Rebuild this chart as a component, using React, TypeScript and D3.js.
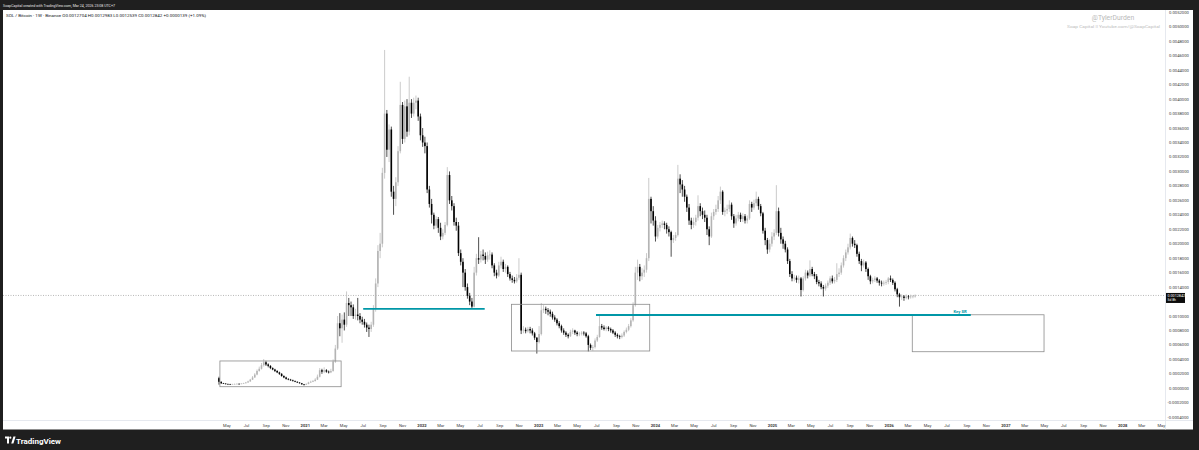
import React from "react";
import * as d3 from "d3";

// Prices below are in units of 0.00001 BTC (SOL/BTC, weekly, Binance)
const UNIT = 1e-5;
const FIRST_WEEK = Date.UTC(2020, 3, 6);
const WEEK = 7 * 86400000;
const FIRST_OPEN = 14;

const close2020 = [9, 7, 6.5, 6, 5.8, 5.5, 5.8, 6, 6.2, 6, 6.5, 7, 8, 9.5, 12, 15, 19, 24, 27, 32, 36, 33, 31, 28, 26, 24, 22, 20, 17, 15, 13, 12, 11, 10, 9, 8, 7, 5.5, 5];
const high2020 = [16, 9.5, 7.5, 7, 6.5, 6.2, 6.3, 6.6, 6.8, 6.7, 7, 7.6, 8.8, 10.5, 13, 17, 21, 26, 30, 35, 40.5, 38, 34.5, 32, 29, 27, 25, 23, 21, 18, 16, 14, 13, 12, 10.8, 9.5, 8.5, 7.4, 6];
const low2020 = [5, 6, 6, 5.5, 5.3, 5, 5.2, 5.5, 5.7, 5.6, 5.8, 6.2, 6.8, 7.8, 9, 11.5, 14.5, 18, 23, 26, 30, 31, 29, 26.5, 25, 22.5, 21, 18.5, 16, 14, 12, 11.2, 10.3, 9.4, 8.5, 7.4, 6.5, 5, 3.8];

const close2021 = [6, 8, 9, 10, 12, 16, 25, 23, 25, 23, 22, 24, 37, 55, 90, 83, 95, 88, 118, 115, 112, 100, 102, 100, 95, 92, 88, 84, 82, 88, 110, 145, 190, 200, 298, 380, 330, 358, 272, 262, 285, 328, 392, 345, 390, 355, 395, 380, 395, 398, 376, 350];
const high2021 = [7, 9, 10.5, 11.5, 14, 19, 28, 27, 29, 26.5, 24.5, 27, 40, 60, 100, 104, 102, 105, 134, 125, 120, 116, 110, 125, 104, 99, 96, 91, 88, 92, 115, 152, 198, 215, 305, 468, 385, 365, 362, 280, 292, 335, 424, 396, 398, 400, 431, 400, 402, 405, 402, 380];
const low2021 = [4.6, 5.5, 7.5, 8.5, 9.5, 11.5, 15, 20, 21, 21.5, 20.5, 21, 23, 35, 53, 72, 63, 80, 85, 100, 100, 96, 95, 94, 90, 88, 84, 78, 71, 78, 85, 106, 140, 180, 195, 290, 320, 313, 265, 240, 252, 280, 325, 338, 340, 348, 350, 374, 376, 386, 370, 343];

const close2022 = [340, 335, 275, 255, 240, 225, 234, 222, 210, 215, 226, 295, 260, 252, 230, 225, 187, 175, 160, 140, 128, 120, 113, 160, 180, 178, 185, 183, 178, 184, 185, 170, 160, 156, 170, 175, 165, 168, 158, 152, 150, 148, 153, 157, 80, 81, 79, 82, 80, 76, 70, 64];
const high2022 = [360, 348, 340, 280, 262, 243, 238, 237, 229, 220, 230, 306, 300, 266, 256, 236, 230, 192, 180, 165, 145, 132, 125, 168, 186, 209, 190, 192, 188, 189, 191, 188, 173, 164, 175, 182, 178, 172, 170, 161, 156, 154, 158, 180, 160, 86, 84, 85, 85, 83, 78, 71];
const low2022 = [334, 325, 270, 250, 228, 220, 221, 215, 205, 206, 212, 224, 255, 246, 225, 218, 183, 170, 140, 135, 124, 115, 110, 112, 156, 172, 174, 177, 172, 175, 178, 166, 155, 152, 154, 166, 161, 160, 154, 149, 146, 145, 146, 150, 75, 76, 76, 77, 76, 73, 67, 48];

const close2023 = [75, 108, 110, 108, 106, 103, 98, 95, 90, 86, 80, 77, 74, 72, 78, 80, 77, 75, 75.5, 77, 76, 72, 60, 56, 57, 66, 71, 86, 84, 82, 84, 82, 80, 77, 74, 72, 71, 73, 78, 81, 86, 94, 115, 160, 168, 155, 160, 164, 180, 262, 245, 232];
const high2023 = [86, 118, 115, 113, 111, 109, 106, 101, 97, 93, 88, 83, 79, 76, 81, 83, 81, 79, 78, 79, 79, 78, 74, 62, 60, 69, 74, 101, 89, 87, 86, 86, 84, 82, 79, 76, 74, 76, 80, 84, 89, 97, 119, 168, 178, 172, 166, 170, 187, 291, 265, 252];
const low2023 = [62, 73, 104, 103, 101, 99, 95, 92, 87, 83, 77, 74, 71, 69, 71, 75, 74, 72, 72, 73, 73, 70, 51, 53, 52, 55, 64, 70, 81, 80, 79, 79, 77, 75, 71, 69, 68, 69, 71, 76, 79, 84, 92, 113, 150, 148, 150, 154, 160, 176, 228, 225];

const close2024 = [210, 222, 226, 228, 226, 220, 216, 205, 208, 212, 290, 282, 275, 265, 250, 232, 226, 230, 236, 252, 245, 240, 236, 220, 210, 238, 244, 248, 260, 272, 244, 246, 248, 254, 238, 228, 235, 240, 234, 238, 232, 235, 255, 250, 256, 262, 252, 242, 218, 205, 192, 200];
const high2024 = [238, 226, 230, 232, 231, 229, 224, 218, 212, 216, 309, 296, 288, 280, 268, 255, 236, 236, 240, 267, 256, 250, 246, 240, 224, 243, 248, 254, 266, 279, 274, 250, 254, 260, 257, 241, 240, 244, 243, 242, 241, 239, 260, 258, 261, 272, 265, 255, 244, 222, 208, 206];
const low2024 = [203, 207, 217, 222, 220, 214, 210, 182, 201, 204, 210, 270, 265, 258, 244, 226, 220, 222, 225, 232, 238, 234, 230, 212, 198, 208, 233, 240, 244, 255, 240, 238, 241, 244, 233, 222, 225, 231, 230, 230, 228, 228, 233, 244, 247, 252, 247, 238, 214, 198, 186, 188];

const close2025 = [210, 215, 245, 215, 206, 200, 192, 176, 158, 152, 153, 150, 152, 136, 152, 160, 156, 165, 158, 155, 147, 145, 140, 138, 142, 146, 152, 148, 150, 158, 160, 170, 180, 188, 195, 208, 200, 198, 186, 176, 170, 174, 165, 155, 148, 150, 152, 149, 146, 145, 146, 147, 152];
const high2025 = [216, 220, 281, 250, 222, 210, 204, 195, 179, 162, 157, 156, 156, 154, 155, 164, 163, 177, 168, 161, 158, 150, 148, 143, 145, 149, 155, 156, 154, 173, 166, 174, 184, 192, 200, 214, 210, 205, 200, 189, 179, 178, 176, 167, 157, 153, 155, 154, 151, 149, 149, 150, 154];
const low2025 = [196, 205, 212, 210, 200, 193, 188, 172, 154, 148, 148, 146, 145, 127, 134, 149, 152, 154, 155, 151, 144, 141, 137, 127, 135, 139, 143, 145, 145, 147, 154, 157, 167, 176, 185, 192, 196, 194, 182, 172, 162, 167, 161, 150, 144, 145, 147, 146, 142, 141, 142, 143, 144];

const close2026 = [150, 146, 137, 130, 126, 127, 125, 127, 126, 127, 127.04, 128.42];
const high2026 = [156, 152, 148, 139, 132, 130, 129, 130, 129, 129.5, 129, 129.83];
const low2026 = [147, 143, 134, 126, 113, 122, 121, 123, 123, 124, 124.5, 125.39];

const closes = [...close2020, ...close2021, ...close2022, ...close2023, ...close2024, ...close2025, ...close2026];
const highs = [...high2020, ...high2021, ...high2022, ...high2023, ...high2024, ...high2025, ...high2026];
const lows = [...low2020, ...low2021, ...low2022, ...low2023, ...low2024, ...low2025, ...low2026];

const priceLabels = ["0.0052000", "0.0050000", "0.0048000", "0.0046000", "0.0044000", "0.0042000", "0.0040000", "0.0038000", "0.0036000", "0.0034000", "0.0032000", "0.0030000", "0.0028000", "0.0026000", "0.0024000", "0.0022000", "0.0020000", "0.0018000", "0.0016000", "0.0014000", "0.0010000", "0.0008000", "0.0006000", "0.0004000", "0.0002000", "0.0000000", "-0.0002000", "-0.0004000"];

// time labels every 2 months starting May 2020
const timeLabels = ["May", "Jul", "Sep", "Nov", "2021", "Mar", "May", "Jul", "Sep", "Nov", "2022", "Mar", "May", "Jul", "Sep", "Nov", "2023", "Mar", "May", "Jul", "Sep", "Nov", "2024", "Mar", "May", "Jul", "Sep", "Nov", "2025", "Mar", "May", "Jul", "Sep", "Nov", "2026", "Mar", "May", "Jul", "Sep", "Nov", "2027", "Mar", "May", "Jul", "Sep", "Nov", "2028", "Mar", "May"];

const boxes = [
  { t0: "2020-04-09", t1: "2021-04-23", top: 0.000378, bottom: 0.000022 },
  { t0: "2022-10-08", t1: "2023-12-14", top: 0.001162, bottom: 0.000516 },
  { t0: "2026-03-14", t1: "2027-04-30", top: 0.001017, bottom: 0.000506 },
];
const levels = [
  { t0: "2021-07-01", t1: "2022-07-16", v: 0.0011, label: "" },
  { t0: "2023-06-29", t1: "2026-09-13", v: 0.001014, label: "Key SR" },
];

const LAST_PRICE = 0.0012842;
const HEADER = "SoapCapital created with TradingView.com, Mar 24, 2026 23:08 UTC+7";
const SYMBOL = "SOL / Bitcoin · 1W · Binance  O0.0012704  H0.0012983  L0.0012539  C0.0012842  +0.0000139 (+1.09%)";

const W = 1199, H = 450;
const PLOT_R = 1165.5, PLOT_T = 10, AXIS_Y = 420.5, DARK_B = 429.5;
const FONT = "Roboto, 'Noto Sans', Arial, sans-serif";
const UP = "#b4b4b4", DOWN = "#000000", TEAL = "#0097a7";

const xScale = d3.scaleUtc()
  .domain([new Date(Date.UTC(2021, 0, 1)), new Date(Date.UTC(2028, 0, 1))])
  .range([305.3, 1122.7]);
const yScale = d3.scaleLinear().domain([0, 0.0048]).range([388.3, 41.3]);

export default function App() {
  const candles = closes.map((c, i) => ({
    t: new Date(FIRST_WEEK + i * WEEK),
    o: i === 0 ? FIRST_OPEN : closes[i - 1],
    c, h: highs[i], l: lows[i],
  }));
  const d = (s: string) => new Date(s + "T00:00:00Z");
  const tickDates = timeLabels.map((_, k) => new Date(Date.UTC(2020, 4 + 2 * k, 1)));

  return (
    <svg width={W} height={H} style={{ position: "absolute", left: 0, top: 0, display: "block" }} fontFamily={FONT}>
      <defs>
        <clipPath id="plot"><rect x={3} y={PLOT_T} width={PLOT_R - 3} height={AXIS_Y - PLOT_T} /></clipPath>
      </defs>
      <rect x={0} y={0} width={W} height={H} fill="#1f1f1f" />
      <rect x={3} y={PLOT_T} width={1190} height={DARK_B - PLOT_T} fill="#ffffff" />
      <text x={3} y={6.8} fontSize={4} fill="#e6e6e6" textLength={112} lengthAdjust="spacingAndGlyphs">{HEADER}</text>

      {/* watermark */}
      <text x={1113} y={20} fontSize={6.8} fill="#b9b9b9" textAnchor="middle">@TylerDurden</text>
      <text x={1160} y={27.5} fontSize={4.4} fill="#bdbdbd" textAnchor="end" textLength={93} lengthAdjust="spacingAndGlyphs">Soap Capital || Youtube.com/@SoapCapital</text>

      <g clipPath="url(#plot)">
        <line x1={3} x2={PLOT_R} y1={yScale(LAST_PRICE)} y2={yScale(LAST_PRICE)} stroke="#8a8a8a" strokeWidth={0.6} strokeDasharray="1,1.5" />
        {candles.map((k, i) => {
          const x = xScale(k.t);
          const col = k.c >= k.o ? UP : DOWN;
          const y0 = yScale(Math.max(k.o, k.c) * UNIT);
          const y1 = yScale(Math.min(k.o, k.c) * UNIT);
          return (
            <g key={i}>
              <line x1={x} x2={x} y1={yScale(k.h * UNIT)} y2={yScale(k.l * UNIT)} stroke={col} strokeWidth={0.7} />
              <rect x={x - 0.8} y={y0} width={1.6} height={Math.max(0.6, y1 - y0)} fill={col} />
            </g>
          );
        })}
        {boxes.map((b, i) => (
          <rect key={i} x={xScale(d(b.t0))} y={yScale(b.top)} width={xScale(d(b.t1)) - xScale(d(b.t0))}
            height={yScale(b.bottom) - yScale(b.top)} fill="none" stroke="#8c8c8c" strokeWidth={0.8} />
        ))}
        {levels.map((l, i) => (
          <g key={i}>
            <line x1={xScale(d(l.t0))} x2={xScale(d(l.t1))} y1={yScale(l.v)} y2={yScale(l.v)} stroke={TEAL} strokeWidth={1.8} />
            {l.label && (
              <text x={xScale(d(l.t1)) - 4} y={yScale(l.v) - 2.2} fontSize={4.2} fontWeight="bold" fill={TEAL} textAnchor="end">{l.label}</text>
            )}
          </g>
        ))}
      </g>

      <text x={6} y={16.6} fontSize={4.4} fill="#131722" textLength={200} lengthAdjust="spacingAndGlyphs">{SYMBOL}</text>

      {/* axes frame */}
      <line x1={PLOT_R} x2={PLOT_R} y1={PLOT_T} y2={DARK_B} stroke="#e0e3eb" strokeWidth={0.8} />
      <line x1={3} x2={1193} y1={AXIS_Y} y2={AXIS_Y} stroke="#e0e3eb" strokeWidth={0.8} />

      {priceLabels.map((s) => {
        const v = parseFloat(s);
        return (
          <text key={s} x={v < 0 ? 1167.5 : 1169} y={yScale(v) + 1.5} fontSize={4.2} fill="#3a3a3a">{s}</text>
        );
      })}

      {/* last price label */}
      <rect x={1166} y={yScale(LAST_PRICE) - 2.5} width={19} height={10} fill="#0c0c0c" />
      <text x={1167.5} y={yScale(LAST_PRICE) + 1.3} fontSize={3.7} fill="#ffffff">0.0012842</text>
      <text x={1167.5} y={yScale(LAST_PRICE) + 6} fontSize={3.4} fill="#ffffff">5d 8h</text>

      {timeLabels.map((s, k) => (
        <text key={k} x={xScale(tickDates[k])} y={426.5} fontSize={4.1} fill="#3a3a3a" textAnchor="middle"
          fontWeight={/^\d{4}$/.test(s) ? "bold" : "normal"}>{s}</text>
      ))}

      {/* TradingView logo */}
      <g transform="translate(5,436.5)" fill="#ffffff">
        <path d="M0,0 H4 V7 H2 V2 H0 Z" />
        <circle cx={5.3} cy={1.2} r={1.1} />
        <path d="M6.2,7 L8.4,0 H10.6 L8.4,7 Z" />
      </g>
      <text x={16} y={443.8} fontSize={8} fontWeight="bold" fill="#ffffff">TradingView</text>
    </svg>
  );
}
